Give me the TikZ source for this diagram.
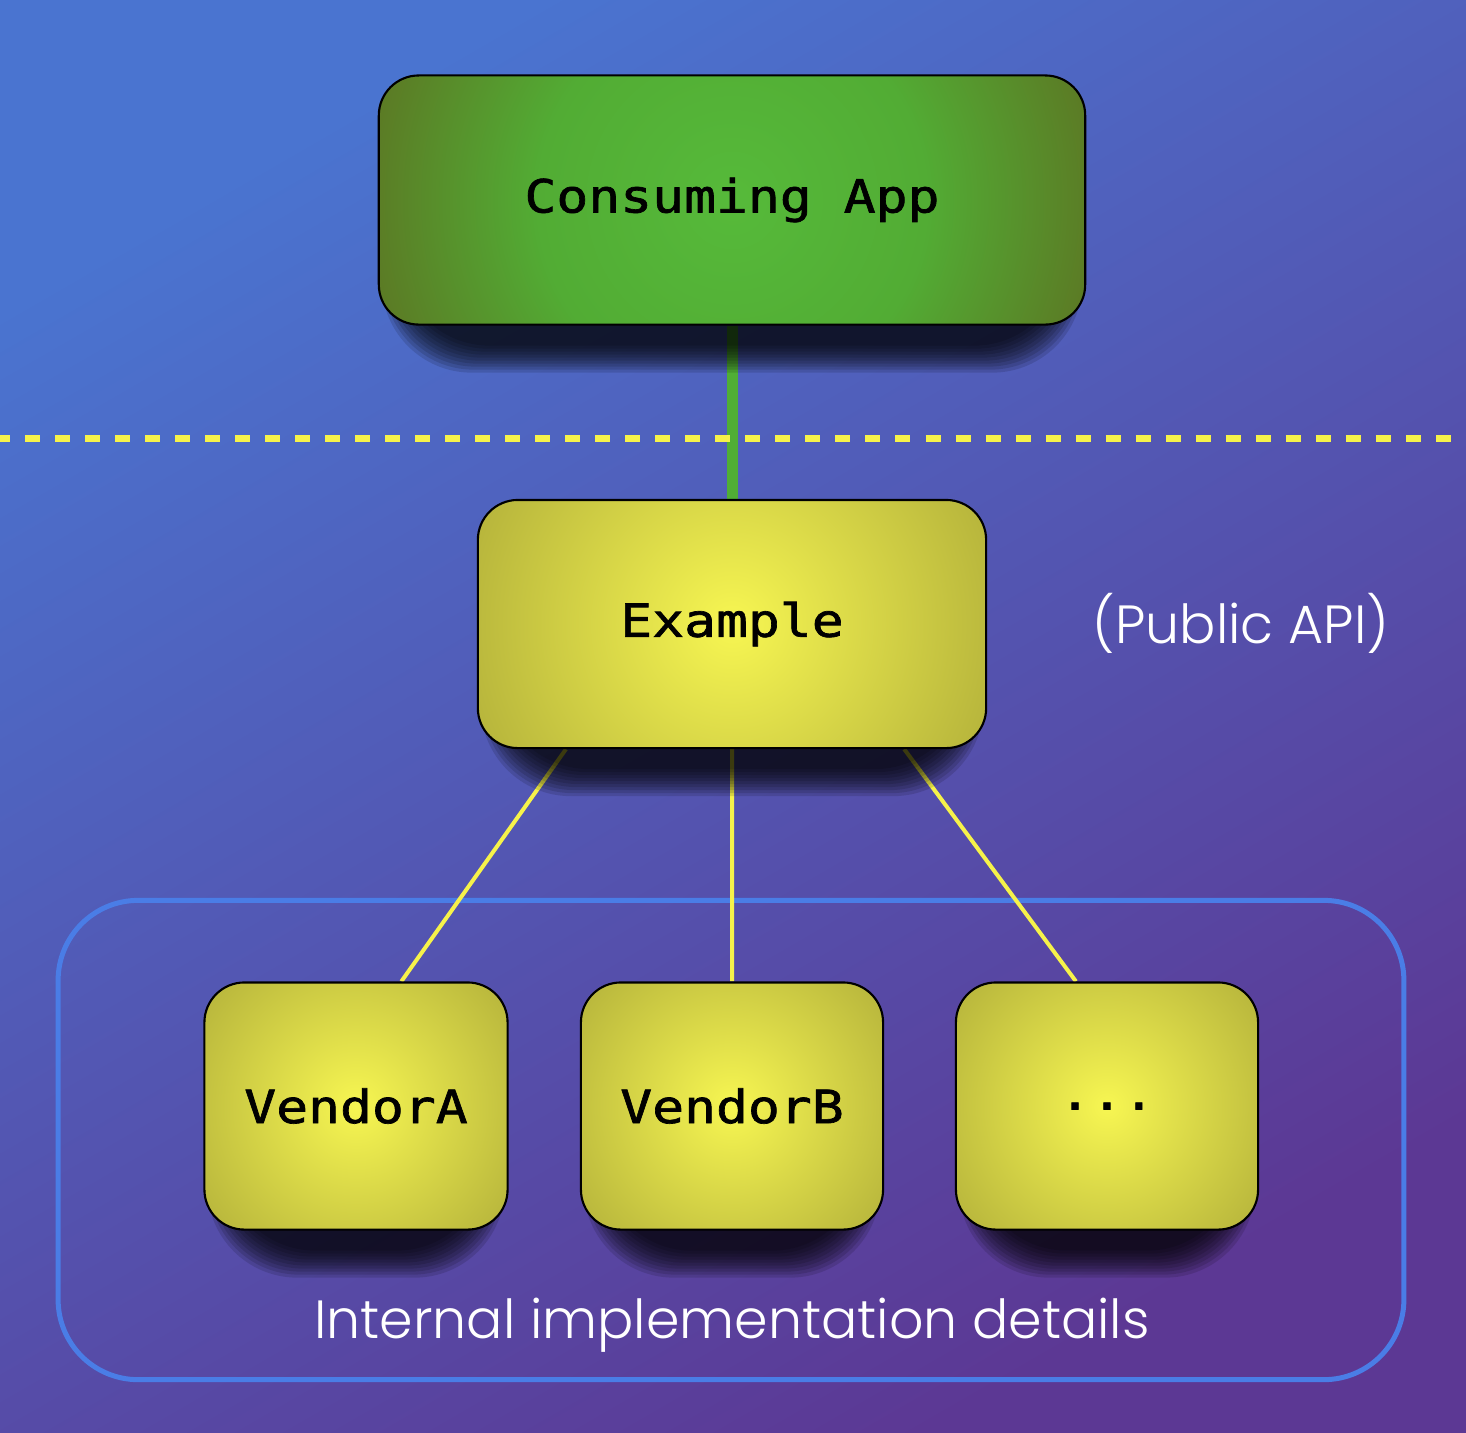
\documentclass[tikz,border=0pt]{standalone}
\usepackage{fontspec}
\newfontfamily\boxfont{DejaVu Sans Mono}[FakeStretch=1.16, FakeBold=1.5]
\newfontfamily\labelfont{Poppins Light}
\usetikzlibrary{calc}

\pgfdeclarelayer{bg}
\pgfdeclarelayer{wires}
\pgfdeclarelayer{shadows}
\pgfsetlayers{bg,wires,shadows,main}

\definecolor{bgUL}{HTML}{4A74D0}
\definecolor{bgLR}{HTML}{5C3894}
\definecolor{appin}{HTML}{56BA3A}
\definecolor{appmid}{HTML}{52AC34}
\definecolor{appout}{HTML}{5C7824}
\definecolor{apiin}{HTML}{F7F652}
\definecolor{apiout}{HTML}{B5B33B}
\definecolor{wireyel}{HTML}{F6F24A}
\definecolor{wiregrn}{HTML}{50AE35}
\definecolor{framecol}{HTML}{4A7DE6}

\pgfdeclareradialshading{appglow}{\pgfpoint{0bp}{0bp}}{color(0bp)=(appin); color(13bp)=(appmid); color(25bp)=(appout); color(50bp)=(appout)}
\pgfdeclareradialshading{apiglow}{\pgfpoint{0bp}{0bp}}{color(0bp)=(apiin); color(25bp)=(apiout); color(50bp)=(apiout)}

% soft shadow under a box
\newcommand{\dropshade}[1]{%
  \foreach \k in {0,...,9}
    \fill [black, opacity=0.13, rounded corners=0.9cm]
      ($(#1.north west)+(22-2*\k,100)$) rectangle ($(#1.south east)+(-22+2*\k,20+3*\k)$);}

\begin{document}
\begin{tikzpicture}[x=0.01cm, y=-0.01cm,
  box/.style={draw=black, line width=0.6pt, rounded corners=0.4cm,
    font=\boxfont\fontsize{13pt}{15pt}\selectfont, text=black},
  glow/.style 2 args={box, fill=#2, path picture={
    \shade [shading=#1]
      let \p1=($(path picture bounding box.north east)-(path picture bounding box.center)$),
          \n1={veclen(\x1,\y1)} in
      (path picture bounding box.center) circle ({\n1*1pt});}},
  appbox/.style={glow={appglow}{appout}},
  apibox/.style={glow={apiglow}{apiout}},
  note/.style={text=white, font=\labelfont\fontsize{15.3pt}{18pt}\selectfont}]
\useasboundingbox (0,0) rectangle (1466,1432);
\begin{pgfonlayer}{bg}
\shade [top color=bgUL, bottom color=bgLR, shading angle=30] (0,0) rectangle (1466,1432);
\end{pgfonlayer}

\node [appbox, minimum width=7.06cm, minimum height=2.49cm] (app) at (732,200) {Consuming App};
\node [apibox, minimum width=5.08cm, minimum height=2.48cm] (example) at (732,624) {Example};
\node [apibox, minimum width=3.03cm, minimum height=2.47cm] (vendora) at (356,1106) {VendorA};
\node [apibox, minimum width=3.02cm, minimum height=2.47cm] (vendorb) at (732,1106) {VendorB};
\node [apibox, minimum width=3.02cm, minimum height=2.47cm] (more) at (1107,1106) {...};

\node [note] (public) at (1241,623) {(Public API)};
\node [note] (internal) at (732,1325) {Internal implementation details};

\coordinate (dl) at (0,438);
\coordinate (dr) at (1466,438);

\begin{pgfonlayer}{shadows}
\dropshade{app}
\dropshade{example}
\dropshade{vendora}
\dropshade{vendorb}
\dropshade{more}
\end{pgfonlayer}

\begin{pgfonlayer}{wires}
\node [draw=framecol, line width=0.05cm, rounded corners=0.8cm, minimum width=13.45cm, minimum height=4.79cm] (frame) at (731,1140) {};
\draw [wiregrn, line width=0.11cm] (app.south)--(example.north);
\draw [wireyel, line width=0.07cm, dash pattern=on 0.15cm off 0.15cm, dash phase=0.05cm] (dl)--(dr);
\draw [wireyel, line width=0.04cm] (example.217)--(vendora.70) (example.south)--(vendorb.north) (example.324)--(more.104);
\end{pgfonlayer}
\end{tikzpicture}
\end{document}
